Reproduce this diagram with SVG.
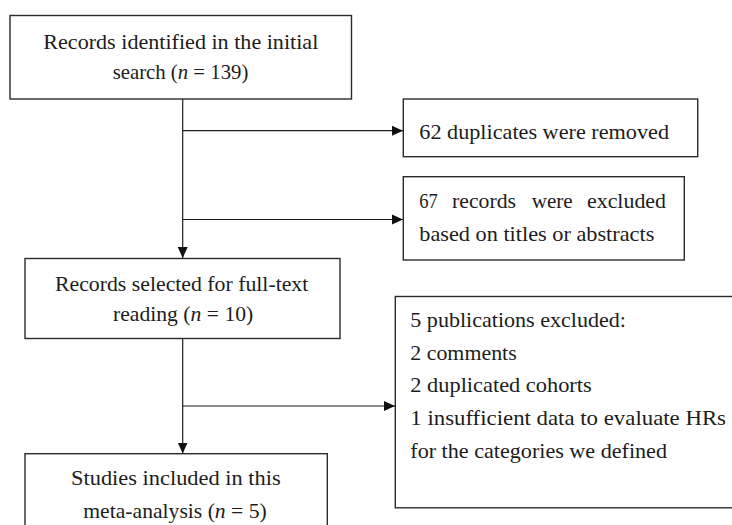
<svg xmlns="http://www.w3.org/2000/svg" width="732" height="525" viewBox="0 0 732 525">
<style>
.box{fill:#fff;stroke:#2b2b2b;stroke-width:1.4}
.con{fill:none;stroke:#1e1e1e;stroke-width:1.2}
.t{font-family:'Liberation Serif','Times New Roman',Times,serif;font-size:21px;fill:#1c1c1c}
.it{font-style:italic}
</style>
<defs>
<marker id="ah" markerUnits="userSpaceOnUse" markerWidth="12" markerHeight="12" viewBox="0 0 12 12" refX="11" refY="6" orient="auto">
<path d="M0,1 L11,6 L0,11 Z" fill="#111"/>
</marker>
</defs>
<rect x="0" y="0" width="732" height="525" fill="#fff"/>
<g id="connectors">
<path class="con" d="M182.7,99 V258" marker-end="url(#ah)"/>
<path class="con" d="M182.7,130.7 H403" marker-end="url(#ah)"/>
<path class="con" d="M182.7,219.5 H403" marker-end="url(#ah)"/>
<path class="con" d="M182.7,338.5 V453.5" marker-end="url(#ah)"/>
<path class="con" d="M182.7,406 H395" marker-end="url(#ah)"/>
</g>
<g id="n-identified" class="t" font-family="Liberation Serif, serif">
<rect class="box" x="10" y="15.5" width="341.5" height="83.5"/>
<text x="43.3" y="48.5" textLength="275" lengthAdjust="spacingAndGlyphs">Records identified in the initial</text>
<text x="112.7" y="79" textLength="135.6" lengthAdjust="spacingAndGlyphs">search (<tspan class="it">n</tspan> = 139)</text>
</g>
<g id="n-duplicates" class="t" font-family="Liberation Serif, serif">
<rect class="box" x="403.3" y="99" width="294.4" height="57.7"/>
<text x="419.3" y="139" textLength="249.7" lengthAdjust="spacingAndGlyphs">62 duplicates were removed</text>
</g>
<g id="n-excluded-titles" class="t" font-family="Liberation Serif, serif">
<rect class="box" x="403.3" y="176.7" width="281" height="83.3"/>
<text x="419.3" y="208" textLength="18.5" lengthAdjust="spacingAndGlyphs">67</text>
<text x="452" y="208" textLength="64" lengthAdjust="spacingAndGlyphs">records</text>
<text x="531.7" y="208" textLength="41" lengthAdjust="spacingAndGlyphs">were</text>
<text x="587" y="208" textLength="79" lengthAdjust="spacingAndGlyphs">excluded</text>
<text x="419.3" y="241" textLength="235" lengthAdjust="spacingAndGlyphs">based on titles or abstracts</text>
</g>
<g id="n-fulltext" class="t" font-family="Liberation Serif, serif">
<rect class="box" x="25" y="258.5" width="315" height="80"/>
<text x="55" y="291" textLength="253.3" lengthAdjust="spacingAndGlyphs">Records selected for full-text</text>
<text x="113" y="321" textLength="140.3" lengthAdjust="spacingAndGlyphs">reading (<tspan class="it">n</tspan> = 10)</text>
</g>
<g id="n-publications-excluded" class="t" font-family="Liberation Serif, serif">
<rect class="box" x="395.3" y="296.5" width="345" height="211.3"/>
<text x="410.3" y="327" textLength="215.7" lengthAdjust="spacingAndGlyphs">5 publications excluded:</text>
<text x="410.3" y="360" textLength="106.4" lengthAdjust="spacingAndGlyphs">2 comments</text>
<text x="410.3" y="392" textLength="181.4" lengthAdjust="spacingAndGlyphs">2 duplicated cohorts</text>
<text x="410.3" y="425" textLength="315.7" lengthAdjust="spacingAndGlyphs">1 insufficient data to evaluate HRs</text>
<text x="410.3" y="458" textLength="256.7" lengthAdjust="spacingAndGlyphs">for the categories we defined</text>
</g>
<g id="n-included" class="t" font-family="Liberation Serif, serif">
<rect class="box" x="25" y="453.7" width="302.3" height="80"/>
<text x="71" y="485" textLength="209.7" lengthAdjust="spacingAndGlyphs">Studies included in this</text>
<text x="83.3" y="518" textLength="183.4" lengthAdjust="spacingAndGlyphs">meta-analysis (<tspan class="it">n</tspan> = 5)</text>
</g>
</svg>
